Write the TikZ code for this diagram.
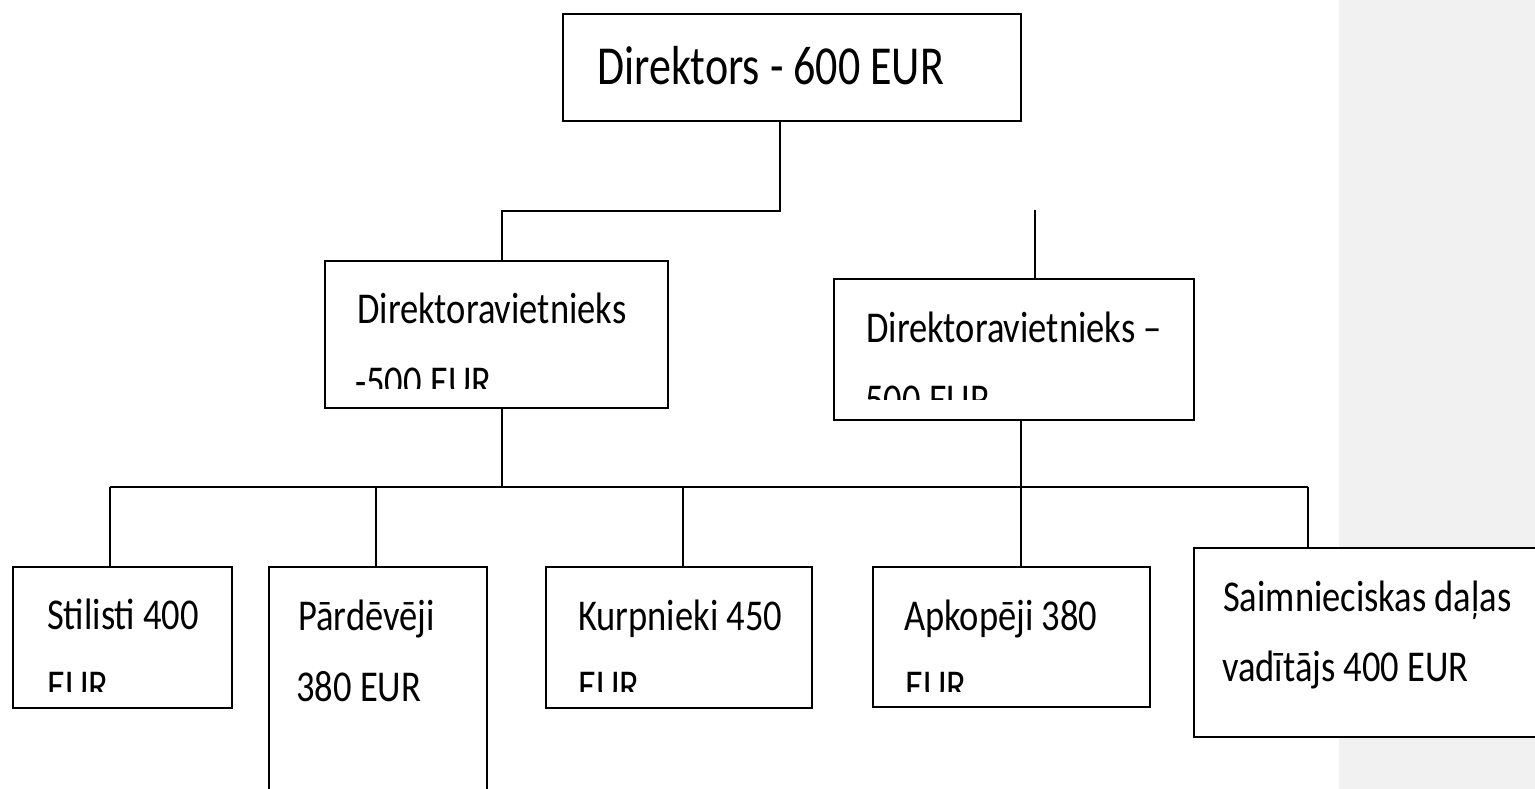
\documentclass[tikz,border=0pt]{standalone}
\usepackage{fontspec}
\setmainfont{Carlito}[FakeStretch=0.8]
\newfontfamily\boxfont{Carlito}[FakeStretch=0.83]
\begin{document}
\begin{tikzpicture}[x=1pt,y=-1pt,
  box/.style={draw=black, line width=2.6pt, fill=white, rectangle, inner sep=0pt},
  conn/.style={draw=black, line width=2.2pt},
  txt/.style={anchor=base west, inner sep=0pt, font=\boxfont\fontsize{44}{44}\selectfont},
  bigtxt/.style={anchor=base west, inner sep=0pt, font=\fontsize{55}{55}\selectfont}]
\useasboundingbox (0,0) rectangle (1535,789);
\fill[fill={rgb,255:red,241;green,241;blue,241}] (1339,0) rectangle (1535,789);

% boxes
\node[box, minimum width=458pt, minimum height=107pt] (d) at (792,67.5) {};
\node[box, minimum width=343pt, minimum height=147pt] (v1) at (496.5,334.5) {};
\node[box, minimum width=360pt, minimum height=141pt] (v2) at (1014,349.5) {};
\node[box, minimum width=219pt, minimum height=141pt] (s) at (122.5,637.5) {};
\node[box, minimum width=218pt, minimum height=236pt] (p) at (378,685) {};
\node[box, minimum width=266pt, minimum height=141pt] (k) at (679,637.5) {};
\node[box, minimum width=277pt, minimum height=140pt] (a) at (1011.5,637) {};
\node[box, minimum width=400pt, minimum height=189pt] (m) at (1394,642.5) {};

% junction coordinates
\coordinate (j1) at (780,211);
\coordinate (j2) at (502,211);
\coordinate (top2) at (1035,210);
\coordinate (b1) at (502,487);
\coordinate (b2) at (1021,487);
\coordinate (bs) at (110,487);
\coordinate (bp) at (376,487);
\coordinate (bk) at (683,487);
\coordinate (bm) at (1308,487);

% connectors
\draw[conn] (j1 |- d.south) -- (j1) -- (j2) -- (j2 |- v1.north);
\draw[conn] (top2) -- (top2 |- v2.north);
\draw[conn] (b1 |- v1.south) -- (b1);
\draw[conn] (b2 |- v2.south) -- (b2);
\draw[conn] (bs) -- (bm);
\draw[conn] (bs) -- (bs |- s.north);
\draw[conn] (bp) -- (bp |- p.north);
\draw[conn] (bk) -- (bk |- k.north);
\draw[conn] (b2) -- (b2 |- a.north);
\draw[conn] (bm) -- (bm |- m.north);

% texts
\node[bigtxt] (td) at (597,85) {Direktors - 600 EUR};

\node[txt] (tv1a) at (357,323) {Direktoravietnieks};
\begin{scope}
  \clip (325,261) rectangle (668,388);
  \node[txt] (tv1b) at (355,396) {-500 EUR};
\end{scope}

\node[txt] (tv2a) at (866,342) {Direktoravietnieks –};
\begin{scope}
  \clip (834,279) rectangle (1194,399);
  \node[txt] (tv2b) at (865,414) {500 EUR};
\end{scope}

\node[txt] (tsa) at (47,629) {Stilisti 400};
\begin{scope}
  \clip (13,567) rectangle (232,691);
  \node[txt] (tsb) at (47,700) {EUR};
\end{scope}

\node[txt] (tpa) at (298,630) {Pārdēvēji};
\node[txt] (tpb) at (296,701) {380 EUR};

\node[txt] (tka) at (578,630) {Kurpnieki 450};
\begin{scope}
  \clip (546,567) rectangle (812,691);
  \node[txt] (tkb) at (578,700) {EUR};
\end{scope}

\node[txt] (taa) at (904,630) {Apkopēji 380};
\begin{scope}
  \clip (873,567) rectangle (1150,691);
  \node[txt] (tab) at (905,700) {EUR};
\end{scope}

\node[txt] (tma) at (1223,611) {Saimnieciskas daļas};
\node[txt] (tmb) at (1222,681) {vadītājs 400 EUR};
\end{tikzpicture}
\end{document}
